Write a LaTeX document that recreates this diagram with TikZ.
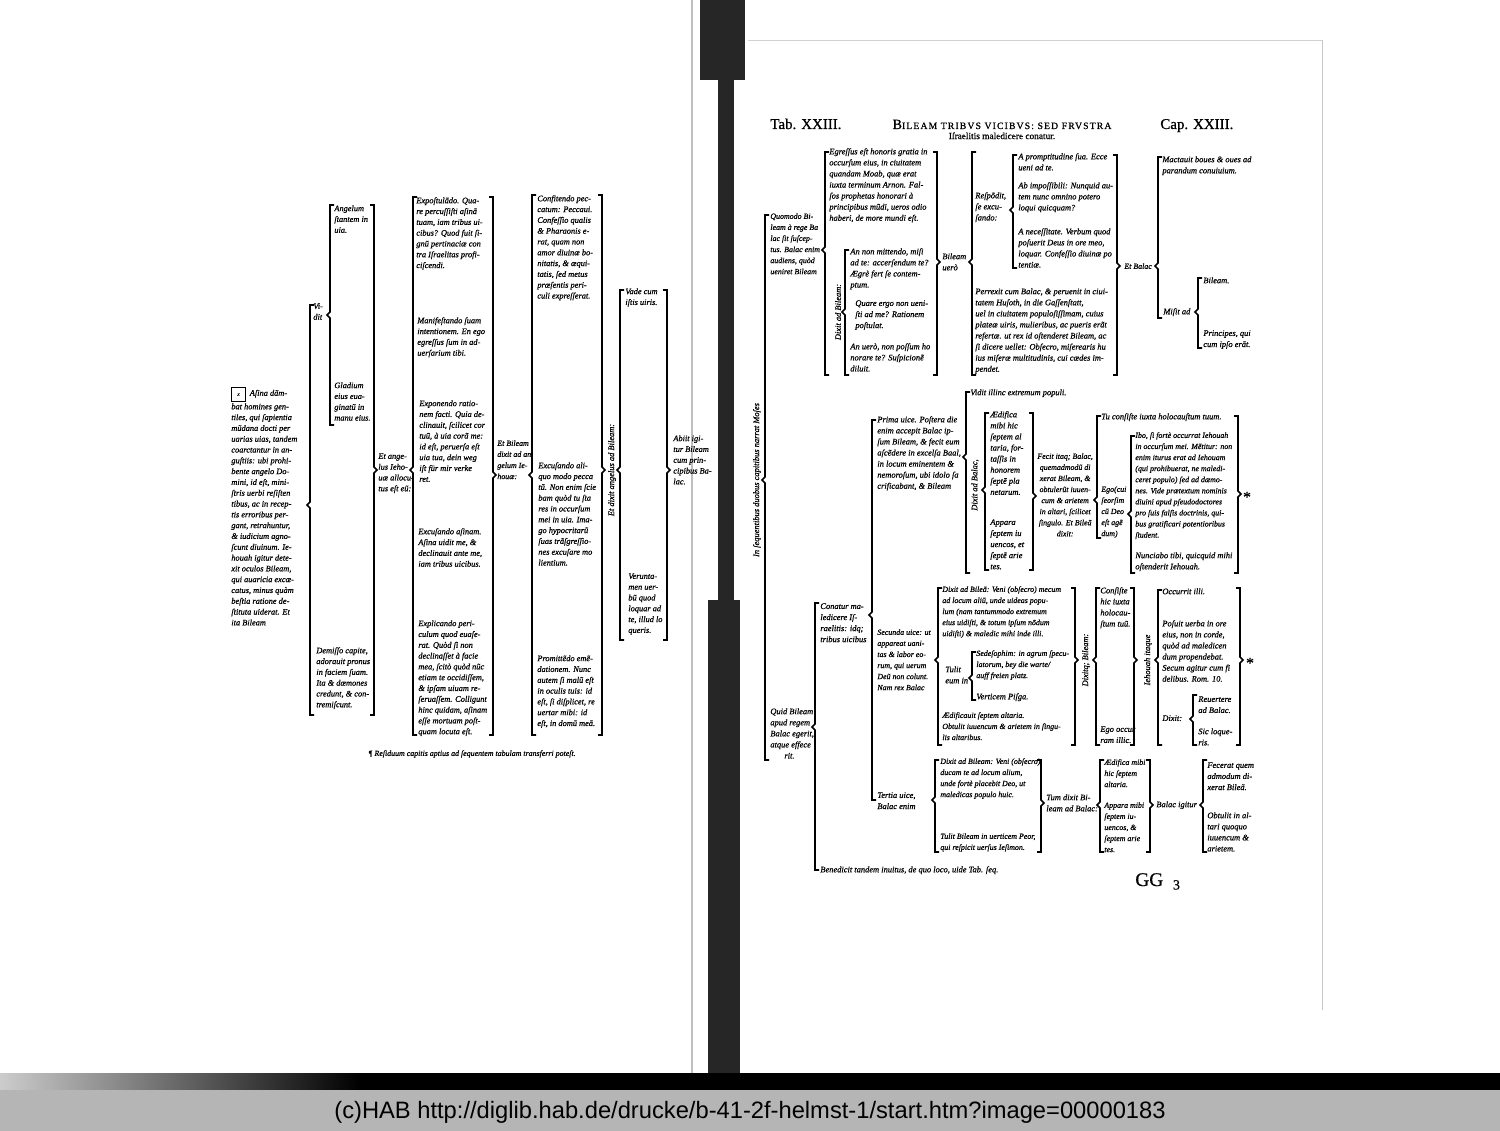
\documentclass[tikz,border=0pt]{standalone}
\usepackage{fontspec}
\setmainfont{Liberation Serif}
\newfontfamily\printface[FakeBold=0.7]{Liberation Serif}
\newfontfamily\footerfont{Liberation Sans}
\usetikzlibrary{positioning}
\newcommand\glossfont{\printface\fontsize{4.8}{6.3}\selectfont\itshape}
% square braces of the table: x, top, bottom, point
\newcommand\lbr[4]{\draw[bracket line] (#1+4,#2) -- (#1,#2) -- (#1,#4-3) -- (#1-3,#4) -- (#1,#4+3) -- (#1,#3) -- (#1+4,#3);}
\newcommand\rbr[4]{\draw[bracket line] (#1-4,#2) -- (#1,#2) -- (#1,#4-3) -- (#1+3,#4) -- (#1,#4+3) -- (#1,#3) -- (#1-4,#3);}
\tikzset{
    gloss/.style={
        font=\glossfont,
        align=left,
        inner sep=0pt,
        anchor=north west,
    },
    gloss left/.style={
        gloss,
        font=\printface\fontsize{4.75}{6.15}\selectfont\itshape,
    },
    gloss narrow/.style={
        gloss,
        font=\printface\fontsize{4.5}{6.3}\selectfont\itshape,
    },
    vertical gloss/.style={
        font=\glossfont,
        inner sep=0pt,
        rotate=90,
        anchor=center,
    },
    page title/.style={
        font=\printface\fontsize{8.5}{10}\selectfont,
        inner sep=0pt,
        anchor=base west,
    },
    bracket line/.style={
        line width=0.9pt,
        line join=miter,
    },
    gutter/.style={
        fill=black!85,
    },
}
\begin{document}
\begin{tikzpicture}[x=0.02cm,y=-0.02cm]
        \useasboundingbox (0,0) rectangle (1500,1131);
        \fill[white] (0,0) rectangle (1500,1131);
        \draw[gray!50,line width=1.5pt] (692,0) -- (692,1073);
        \fill[gutter] (700,0) rectangle (745,80);
        \fill[gutter] (718,80) rectangle (734,600);
        \fill[gutter] (708,600) rectangle (740,1073);
        \draw[gray!35] (748,40) -- (1322,40);
        \draw[gray!45] (1322,40) -- (1322,1010);
        \fill[black] (0,1073) rectangle (1500,1090);
        \shade[left color=gray!40,right color=black] (0,1073) rectangle (360,1090);
        \fill[gray!58] (0,1090) rectangle (1500,1131);
        \node[font=\footerfont\fontsize{13.5}{16}\selectfont,inner sep=0pt](hab) at (750,1112)
            {(c)HAB http://diglib.hab.de/drucke/b-41-2f-helmst-1/start.htm?image=00000183};

        % left page
        \node[gloss left](asina) at (231,387) {\fbox{\fontsize{3}{3}\selectfont x}\ \ Aſina dãm-\\bat homines gen-\\tiles, qui ſapientia\\mũdana docti per\\uarias uias, tandem\\coarctantur in an-\\guſtiis: ubi prohi-\\bente angelo Do-\\mini, id eſt, mini-\\ſtris uerbi reſiſten\\tibus, ac in recep-\\tis erroribus per-\\gant, retrahuntur,\\\& iudicium agno-\\ſcunt diuinum. Ie-\\houah igitur dete-\\xit oculos Bileam,\\qui auaricia excæ-\\catus, minus quàm\\beſtia ratione de-\\ſtituta uiderat. Et\\ita Bileam};
        \node[gloss left](vidit) at (313,303) {Vi-\\dit};
        \node[gloss left](angelum) at (334,205) {Angelum\\ſtantem in\\uia.};
        \node[gloss left](gladium) at (334,382) {Gladium\\eius eua-\\ginatũ in\\manu eius.};
        \node[gloss left](demisso) at (316,647) {Demiſſo capite,\\adorauit pronus\\in faciem ſuam.\\Ita \& dæmones\\credunt, \& con-\\tremiſcunt.};
        \node[gloss left](angelus) at (378,453) {Et ange-\\lus Ieho-\\uæ allocu-\\tus eſt eũ:};
        \node[gloss left](expost) at (416,197) {Expoſtulãdo. Qua-\\re percuſſiſti aſinã\\tuam, iam tribus ui-\\cibus? Quod fuit ſi-\\gnũ pertinaciæ con\\tra Iſraelitas profi-\\ciſcendi.};
        \node[gloss left](manif) at (417,317) {Manifeſtando ſuam\\intentionem. En ego\\egreſſus ſum in ad-\\uerſarium tibi.};
        \node[gloss left](expon) at (419,400) {Exponendo ratio-\\nem facti. Quia de-\\clinauit, ſcilicet cor\\tuũ, à uia corã me:\\id eſt, peruerſa eſt\\uia tua, dein weg\\iſt für mir verke\\ret.};
        \node[gloss left](excus) at (418,528) {Excuſando aſinam.\\Aſina uidit me, \&\\declinauit ante me,\\iam tribus uicibus.};
        \node[gloss left](explic) at (418,620) {Explicando peri-\\culum quod euaſe-\\rat. Quòd ſi non\\declinaſſet à facie\\mea, ſcitò quòd nũc\\etiam te occidiſſem,\\\& ipſam uiuam re-\\ſeruaſſem. Colligunt\\hinc quidam, aſinam\\eſſe mortuam poſt-\\quam locuta eſt.};
        \node[gloss narrow](etbileam) at (497,440) {Et Bileam\\dixit ad an\\gelum Ie-\\houæ:};
        \node[gloss left](confit) at (537,195) {Confitendo pec-\\catum: Peccaui.\\Confeſſio qualis\\\& Pharaonis e-\\rat, quam non\\amor diuinæ bo-\\nitatis, \& æqui-\\tatis, ſed metus\\præſentis peri-\\culi expreſſerat.};
        \node[gloss left](excus2) at (538,462) {Excuſando ali-\\quo modo pecca\\tũ. Non enim ſcie\\bam quòd tu ſta\\res in occurſum\\mei in uia. Ima-\\go hypocritarũ\\ſuas trãſgreſſio-\\nes excuſare mo\\lientium.};
        \node[gloss left](promit) at (537,655) {Promittẽdo emẽ-\\dationem. Nunc\\autem ſi malũ eſt\\in oculis tuis: id\\eſt, ſi diſplicet, re\\uertar mibi: id\\eſt, in domũ meã.};
        \node[vertical gloss](etdixit) at (612,470) {Et dixit angelus ad Bileam:};
        \node[gloss left](vade) at (625,288) {Vade cum\\iſtis uiris.};
        \node[gloss left](verunt) at (628,573) {Verunta-\\men uer-\\bũ quod\\loquar ad\\te, illud lo\\queris.};
        \node[gloss left](abiit) at (673,435) {Abiit igi-\\tur Bileam\\cum prin-\\cipibus Ba-\\lac.};
        \node[gloss,font=\printface\fontsize{4.5}{5}\selectfont\itshape](residuum) at (368,750) {¶ Reſiduum capitis aptius ad ſequentem tabulam transferri poteſt.};
        \lbr{330}{205}{425}{315}
        \lbr{310}{305}{715}{505}
        \rbr{374}{205}{715}{470}
        \lbr{413}{197}{735}{470}
        \rbr{493}{197}{735}{475}
        \lbr{532}{195}{735}{475}
        \rbr{602}{195}{735}{470}
        \lbr{620}{290}{640}{470}
        \rbr{667}{290}{640}{470}

        % right page
        \node[page title](tab) at (770,129) {Tab. XXIII.};
        \node[page title](cap) at (1160,129) {Cap. XXIII.};
        \node[inner sep=0pt,anchor=base](head) at (1002,129) {\printface{\fontsize{8}{9}\selectfont B}{\fontsize{5.5}{9}\selectfont\addfontfeature{LetterSpace=12}ILEAM TRIBVS VICIBVS: SED FRVSTRA}};
        \node[inner sep=0pt,font=\printface\fontsize{5.3}{6}\selectfont,below=1.5pt of head](subhead) {Iſraelitis maledicere conatur.};
        \node[vertical gloss](root) at (757,480) {In ſequentibus duobus capitibus narrat Moſes};
        \lbr{765}{215}{760}{480}
        \node[gloss narrow](quomodo) at (770,213) {Quomodo Bi-\\leam à rege Ba\\lac ſit ſuſcep-\\tus. Balac enim\\audiens, quòd\\ueniret Bileam};
        \lbr{825}{152}{375}{250}
        \node[gloss](egressus) at (829,148) {Egreſſus eſt honoris gratia in\\occurſum eius, in ciuitatem\\quandam Moab, quæ erat\\iuxta terminum Arnon. Fal-\\ſos prophetas honorari à\\principibus mũdi, ueros odio\\haberi, de more mundi eſt.};
        \node[vertical gloss](dixitad) at (838,312) {Dixit ad Bileam:};
        \lbr{845}{250}{375}{312}
        \node[gloss](annon) at (850,248) {An non mittendo, miſi\\ad te: accerſendum te?\\Ægrè fert ſe contem-\\ptum.};
        \node[gloss](quare) at (855,300) {Quare ergo non ueni-\\ſti ad me? Rationem\\poſtulat.};
        \node[gloss](anuero) at (850,343) {An uerò, non poſſum ho\\norare te? Suſpicionẽ\\diluit.};
        \rbr{937}{152}{375}{262}
        \node[gloss](bileamuero) at (942,253) {Bileam\\uerò};
        \lbr{972}{152}{375}{262}
        \node[gloss](respondit) at (975,192) {Reſpõdit,\\ſe excu-\\ſando:};
        \lbr{1013}{155}{268}{210}
        \node[gloss](prompt) at (1018,153) {A promptitudine ſua. Ecce\\ueni ad te.};
        \node[gloss](impos) at (1018,182) {Ab impoſſibili: Nunquid au-\\tem nunc omnino potero\\loqui quicquam?};
        \node[gloss](neces) at (1018,228) {A neceſſitate. Verbum quod\\poſuerit Deus in ore meo,\\loquar. Confeſſio diuinæ po\\tentiæ.};
        \node[gloss](perrexit) at (975,288) {Perrexit cum Balac, \& peruenit in ciui-\\tatem Huſoth, in die Gaſſenſtatt,\\uel in ciuitatem populoſiſſimam, cuius\\plateæ uiris, mulieribus, ac pueris erãt\\refertæ. ut rex id oſtenderet Bileam, ac\\ſi dicere uellet: Obſecro, miſerearis hu\\ius miſeræ multitudinis, cui cædes im-\\pendet.};
        \rbr{1117}{155}{375}{266}
        \node[gloss narrow](etbalac) at (1124,263) {Et Balac};
        \lbr{1158}{157}{318}{266}
        \node[gloss](mactauit) at (1162,156) {Mactauit boues \& oues ad\\parandum conuiuium.};
        \node[gloss](misit) at (1163,308) {Miſit ad};
        \lbr{1198}{278}{348}{312}
        \node[gloss](bileamdot) at (1203,277) {Bileam.};
        \node[gloss](principes) at (1203,330) {Principes, qui\\cum ipſo erãt.};

        \lbr{872}{420}{800}{615}
        \node[gloss](prima) at (877,416) {Prima uice. Poſtera die\\enim accepit Balac ip-\\ſum Bileam, \& fecit eum\\aſcẽdere in excelſa Baal,\\in locum eminentem \&\\nemoroſum, ubi idolo ſa\\crificabant, \& Bileam};
        \lbr{966}{392}{573}{457}
        \node[gloss](vidilli) at (970,389) {Vidit illinc extremum populi.};
        \node[vertical gloss](dixitbalac) at (975,485) {Dixit ad Balac,};
        \lbr{985}{413}{570}{490}
        \node[gloss](aedifica) at (990,411) {Ædifica\\mibi hic\\ſeptem al\\taria, for-\\taſſis in\\honorem\\ſeptẽ pla\\netarum.};
        \node[gloss](appara) at (990,519) {Appara\\ſeptem iu\\uencos, et\\ſeptẽ arie\\tes.};
        \rbr{1033}{413}{570}{496}
        \node[gloss narrow,align=center](fecit) at (1037,453) {Fecit itaq; Balac,\\quemadmodũ di\\xerat Bileam, \&\\obtulerũt iuuen-\\cum \& arietem\\in altari, ſcilicet\\ſingulo. Et Bileã\\dixit:};
        \lbr{1097}{416}{538}{500}
        \node[gloss](tuconsiste) at (1101,413) {Tu conſiſte iuxta holocauſtum tuum.};
        \node[gloss narrow](ego) at (1101,486) {Ego(cui\\ſeorſim\\cũ Deo\\eſt agẽ\\dum)};
        \lbr{1131}{436}{573}{514}
        \node[gloss narrow](ibo) at (1135,432) {Ibo, ſi fortè occurrat Iehouah\\in occurſum mei. Mẽtitur: non\\enim iturus erat ad Iehouam\\(qui prohibuerat, ne maledi-\\ceret populo) ſed ad dæmo-\\nes. Vide prætextum nominis\\diuini apud pſeudodoctores\\pro ſuis falſis doctrinis, qui-\\bus gratificari potentioribus\\ſtudent.};
        \node[gloss](nunciabo) at (1135,552) {Nunciabo tibi, quicquid mihi\\oſtenderit Iehouah.};
        \rbr{1238}{416}{573}{494}
        \node[inner sep=0pt,font=\printface\fontsize{9}{9}\selectfont](star1) at (1247,497) {*};

        \lbr{815}{603}{870}{727}
        \node[gloss](conatur) at (820,603) {Conatur ma-\\ledicere Iſ-\\raelitis: idq;\\tribus uicibus};
        \node[gloss](quid) at (770,708) {Quid Bileam\\apud regem\\Balac egerit,\\atque effece\\\hspace{8pt}rit.};
        \node[gloss narrow](secunda) at (877,629) {Secunda uice: ut\\appareat uani-\\tas \& labor eo-\\rum, qui uerum\\Deũ non colunt.\\Nam rex Balac};
        \lbr{938}{588}{745}{660}
        \node[gloss narrow](dixitblea) at (942,586) {Dixit ad Bileã: Veni (obſecro) mecum\\ad locum aliũ, unde uideas popu-\\lum (nam tantummodo extremum\\eius uidiſti, \& totum ipſum nõdum\\uidiſti) \& maledic mihi inde illi.};
        \node[gloss](tulit) at (945,666) {Tulit\\eum in};
        \lbr{972}{652}{700}{678}
        \node[gloss narrow](sedesophim) at (976,650) {Sedeſophim: in agrum ſpecu-\\latorum, bey die warte/\\auff freien platz.};
        \node[gloss](vertic) at (976,693) {Verticem Piſga.};
        \node[gloss narrow](aedificauit) at (942,712) {Ædificauit ſeptem altaria.\\Obtulit iuuencum \& arietem in ſingu-\\lis altaribus.};
        \rbr{1075}{588}{745}{660}
        \node[vertical gloss](dixitq) at (1086,660) {Dixitq; Bileam:};
        \lbr{1096}{588}{745}{660}
        \node[gloss](consiste) at (1100,587) {Conſiſte\\hic iuxta\\holocau-\\ſtum tuũ.};
        \node[gloss](egooccur) at (1100,726) {Ego occur\\ram illic.};
        \rbr{1134}{588}{745}{660}
        \node[vertical gloss](iehouah) at (1148,660) {Iehouah itaque};
        \lbr{1158}{590}{745}{660}
        \node[gloss](occurrit) at (1162,588) {Occurrit illi.};
        \node[gloss](posuit) at (1162,620) {Poſuit uerba in ore\\eius, non in corde,\\quòd ad maledicen\\dum propendebat.\\Secum agitur cum fi\\delibus. Rom. 10.};
        \node[gloss](dixitc) at (1162,715) {Dixit:};
        \lbr{1193}{695}{745}{719}
        \node[gloss](reuert) at (1198,696) {Reuertere\\ad Balac.};
        \node[gloss](sicloq) at (1198,728) {Sic loque-\\ris.};
        \rbr{1240}{588}{745}{660}
        \node[inner sep=0pt,font=\printface\fontsize{9}{9}\selectfont](star2) at (1250,663) {*};

        \node[gloss](tertia) at (877,792) {Tertia uice,\\Balac enim};
        \lbr{935}{760}{852}{800}
        \node[gloss narrow](dixit3) at (940,758) {Dixit ad Bileam: Veni (obſecro)\\ducam te ad locum alium,\\unde fortè placebit Deo, ut\\maledicas populo huic.};
        \node[gloss narrow](tulitbileam) at (940,833) {Tulit Bileam in uerticem Peor,\\qui reſpicit uerſus Ieſimon.};
        \rbr{1041}{760}{852}{803}
        \node[gloss](tumdixit) at (1046,794) {Tum dixit Bi-\\leam ad Balac:};
        \lbr{1100}{760}{852}{805}
        \node[gloss narrow](aedif3) at (1104,759) {Ædifica mibi\\hic ſeptem\\altaria.};
        \node[gloss narrow](appara3) at (1104,802) {Appara mibi\\ſeptem iu-\\uencos, \&\\ſeptem arie\\tes.};
        \rbr{1150}{760}{852}{805}
        \node[gloss](balacig) at (1156,801) {Balac igitur};
        \lbr{1203}{760}{852}{805}
        \node[gloss](fecerat) at (1207,762) {Fecerat quem\\admodum di-\\xerat Bileã.};
        \node[gloss](obtulit) at (1207,812) {Obtulit in al-\\tari quoquo\\iuuencum \&\\arietem.};
        \node[gloss](benedicit) at (820,866) {Benedicit tandem inuitus, de quo loco, uide Tab. ſeq.};
        \node[page title,font=\printface\fontsize{11}{12}\selectfont](gg) at (1135,886) {GG\ \ \raisebox{-2pt}{\fontsize{8}{9}\selectfont 3}};
\end{tikzpicture}
\end{document}
